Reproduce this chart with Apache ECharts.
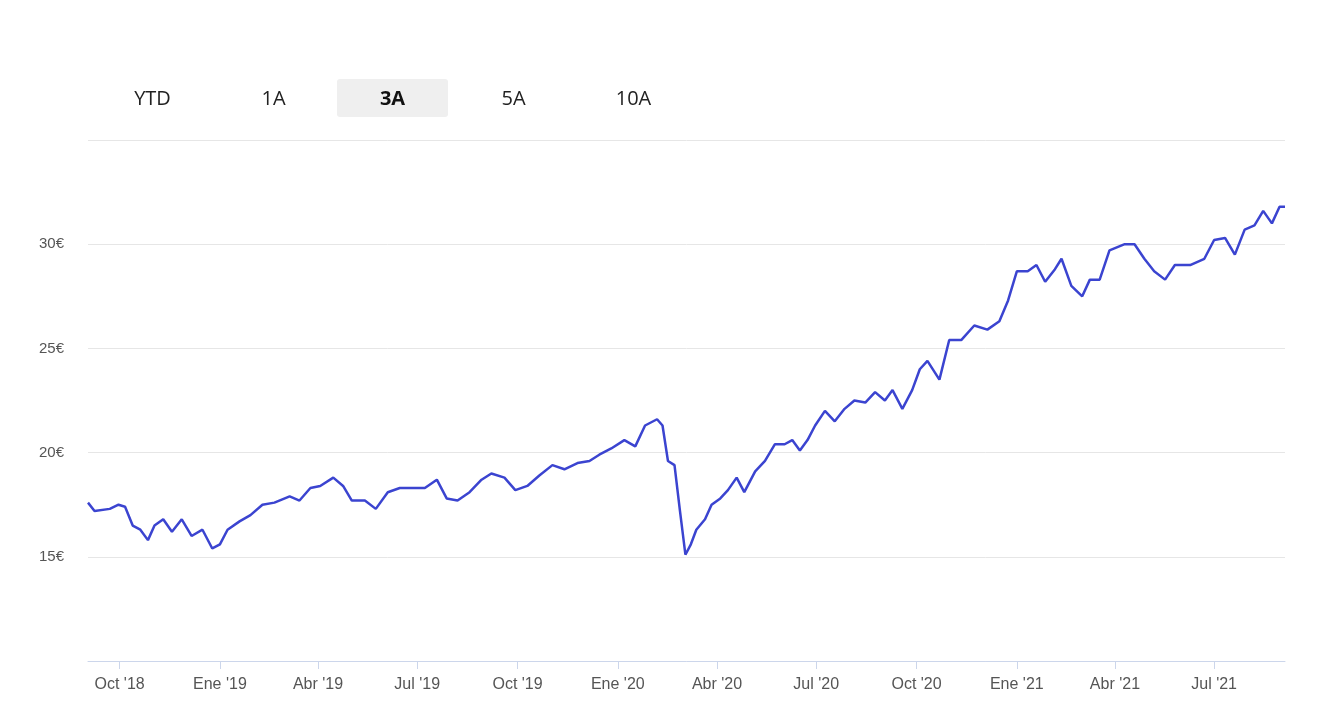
<!DOCTYPE html>
<html>
<head>
<meta charset="utf-8">
<script src="https://cdn.jsdelivr.net/npm/echarts@6/dist/echarts.min.js"></script>
<style>
  body { margin: 0; background: #fff; font-family: "Open Sans", "Noto Sans", sans-serif; }
  #chart { position: absolute; left: 0; top: 0; width: 1332px; height: 718px; }
  .btn { position: absolute; top: 79px; height: 38px; width: 111px; line-height: 38px; text-align: center;
         font-size: 20px; color: #222; border-radius: 3px; }
  .on { background: #efefef; font-weight: bold; color: #111; }
</style>
</head>
<body>
<div id="chart"></div>
<div class="btn" style="left:97px">YTD</div>
<div class="btn" style="left:218px">1A</div>
<div class="btn on" style="left:337px">3A</div>
<div class="btn" style="left:458px">5A</div>
<div class="btn" style="left:578px">10A</div>
<script>
  // días desde el 2 sep 2018
  var days = [0,6,20,28,34,41,48,55,61,69,77,86,95,105,114,121,128,139,149,160,171,185,194,204,213,225,234,242,254,264,275,286,297,309,320,329,339,350,361,370,382,392,403,414,426,437,449,460,469,480,492,502,511,522,527,532,538,543,548,553,558,566,572,580,587,595,602,612,621,630,639,646,653,660,667,676,685,694,703,713,722,731,738,747,756,763,770,781,790,801,813,825,836,844,852,862,870,878,887,893,902,912,919,928,937,951,960,969,978,988,997,1011,1024,1033,1043,1052,1061,1070,1078,1086,1093,1098];
  var prices = [17.6,17.2,17.3,17.5,17.4,16.5,16.3,15.8,16.5,16.8,16.2,16.8,16.0,16.3,15.4,15.6,16.3,16.7,17.0,17.5,17.6,17.9,17.7,18.3,18.4,18.8,18.4,17.7,17.7,17.3,18.1,18.3,18.3,18.3,18.7,17.8,17.7,18.1,18.7,19.0,18.8,18.2,18.4,18.9,19.4,19.2,19.5,19.6,19.9,20.2,20.6,20.3,21.3,21.6,21.3,19.6,19.4,17.2,15.1,15.6,16.3,16.8,17.5,17.8,18.2,18.8,18.1,19.1,19.6,20.4,20.4,20.6,20.1,20.6,21.3,22.0,21.5,22.1,22.5,22.4,22.9,22.5,23.0,22.1,23.0,24.0,24.4,23.5,25.4,25.4,26.1,25.9,26.3,27.3,28.7,28.7,29.0,28.2,28.8,29.3,28.0,27.5,28.3,28.3,29.7,30.0,30.0,29.3,28.7,28.3,29.0,29.0,29.3,30.2,30.3,29.5,30.7,30.9,31.6,31.0,31.8,31.8];
  var meses = ['Ene','Feb','Mar','Abr','May','Jun','Jul','Ago','Sep','Oct','Nov','Dic'];

  var start = Date.UTC(2018, 8, 2);
  var serie = [];
  for (var i = 0; i < days.length; i++) {
      serie.push([start + days[i] * 86400000, prices[i]]);
  }

  var myChart = echarts.init(document.getElementById('chart'));
  var option = {
      animation: false,
      grid: { left: 88, right: 47, top: 140, bottom: 57 },
      xAxis: {
          type: 'time',
          min: start,
          max: start + 1098 * 86400000,
          minInterval: 90 * 86400000,
          maxInterval: 92 * 86400000,
          splitLine: { show: false },
          axisLine: { lineStyle: { color: '#ccd6eb' } },
          axisTick: { show: true, length: 8, lineStyle: { color: '#ccd6eb' } },
          axisLabel: {
              color: '#555', fontSize: 16, margin: 16,
              formatter: function(v) {
                  var d = new Date(v);
                  return meses[d.getUTCMonth()] + " '" + String(d.getUTCFullYear()).slice(2);
              }
          }
      },
      yAxis: {
          type: 'value',
          min: 10, max: 35, interval: 5,
          axisLine: { show: false },
          axisTick: { show: false },
          splitLine: { lineStyle: { color: '#e6e6e6' } },
          axisLabel: {
              color: '#555', fontSize: 15, margin: 24,
              formatter: function(v) { return (v === 10 || v === 35) ? '' : v + '€'; }
          }
      },
      series: [{
          type: 'line',
          data: serie,
          showSymbol: false,
          lineStyle: { color: '#3b44d0', width: 2.5 }
      }]
  };
  myChart.setOption(option);
</script>
</body>
</html>
